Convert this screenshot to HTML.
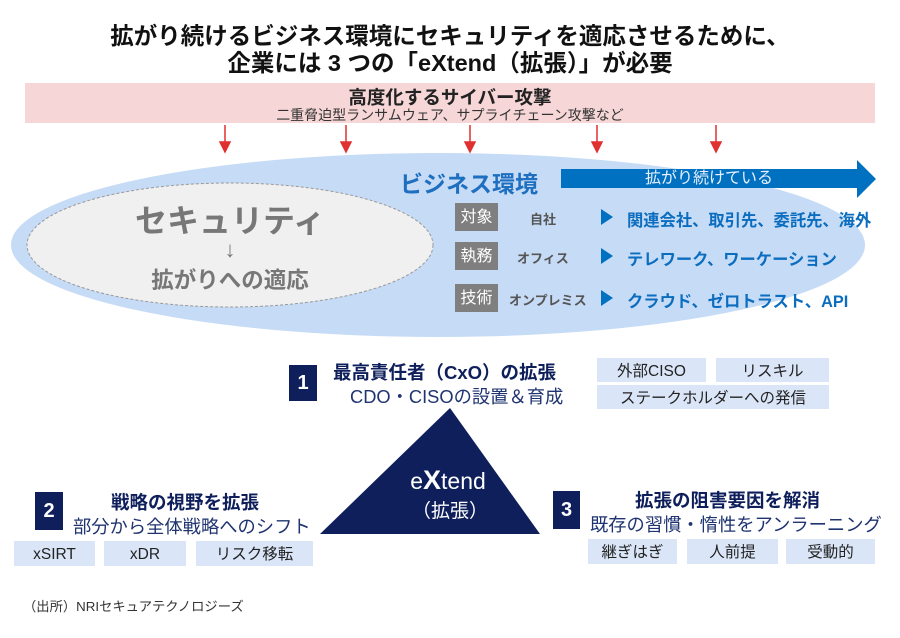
<!DOCTYPE html>
<html><head><meta charset="utf-8">
<style>
*{margin:0;padding:0;box-sizing:border-box}
body{width:900px;height:638px;background:#fff;position:relative;overflow:hidden;font-family:"Liberation Sans","Noto Sans CJK JP",sans-serif}
.a{position:absolute;white-space:nowrap}
.t{font-weight:bold;font-size:23.5px;color:#111;left:0;width:900px;text-align:center}
.gb{position:absolute;background:#7f7f7f;color:#fff;font-size:16px;width:43px;height:28px;line-height:30px;text-align:center}
.lb{position:absolute;font-size:13px;font-weight:bold;color:#555}
.tri{position:absolute;width:0;height:0;border-top:8px solid transparent;border-bottom:8px solid transparent;border-left:12px solid #0070c0}
.bl{position:absolute;font-size:16.3px;font-weight:bold;color:#0b6dbf;white-space:nowrap}
.nb{position:absolute;background:#0e1f5b;color:#fff;font-weight:bold;font-size:20px;text-align:center}
.lt{position:absolute;background:#dae6f8;font-size:15.5px;color:#222;text-align:center;height:24px;line-height:27px}
.h{position:absolute;font-weight:bold;font-size:18.5px;color:#0e1f5b;white-space:nowrap}
.s{position:absolute;font-size:18.3px;color:#1f3470;white-space:nowrap}
</style></head><body>
<div class="a t" style="top:17px">拡がり続けるビジネス環境にセキュリティを適応させるために、</div>
<div class="a t" style="top:44px">企業には 3 つの「eXtend（拡張）」が必要</div>
<div class="a" style="left:25px;top:83px;width:850px;height:40px;background:#f6d6d6"></div>
<div class="a" style="left:0;width:900px;text-align:center;top:84px;font-size:18.5px;font-weight:bold;color:#222">高度化するサイバー攻撃</div>
<div class="a" style="left:0;width:900px;text-align:center;top:105px;font-size:14px;color:#333">二重脅迫型ランサムウェア、サプライチェーン攻撃など</div>
<svg class="a" style="left:0;top:0" width="900" height="638">
<g stroke="#e03030" stroke-width="1.5" fill="#e03030">
<line x1="225" y1="125" x2="225" y2="145"/><polygon points="220,142 230,142 225,152"/>
<line x1="346" y1="125" x2="346" y2="145"/><polygon points="341,142 351,142 346,152"/>
<line x1="470" y1="125" x2="470" y2="145"/><polygon points="465,142 475,142 470,152"/>
<line x1="597" y1="125" x2="597" y2="145"/><polygon points="592,142 602,142 597,152"/>
<line x1="716" y1="125" x2="716" y2="145"/><polygon points="711,142 721,142 716,152"/>
</g>
<ellipse cx="438" cy="245" rx="427" ry="92" fill="#c6dbf6"/>
<ellipse cx="230" cy="245" rx="203" ry="62" fill="#f0f0f0" stroke="#999" stroke-dasharray="3,2"/>
<polygon points="561,169 857,169 857,160 876,179 857,198 857,188 561,188" fill="#0070c0"/>
<polygon points="450,408 540,534 320,534" fill="#0e1f5b"/>
</svg>
<div class="a" style="left:30px;width:400px;text-align:center;top:196px;font-size:32px;font-weight:bold;color:#777">セキュリティ</div>
<div class="a" style="left:30px;width:400px;text-align:center;top:237px;font-size:22px;color:#777">↓</div>
<div class="a" style="left:30px;width:400px;text-align:center;top:263px;font-size:22.5px;font-weight:bold;color:#777">拡がりへの適応</div>
<div class="a" style="left:400px;top:165px;font-size:23px;font-weight:bold;color:#1f6fc0">ビジネス環境</div>
<div class="a" style="left:561px;width:296px;text-align:center;top:169px;font-size:16px;color:#e8f0ff;line-height:20px">拡がり続けている</div>
<div class="gb" style="left:455px;top:203px">対象</div>
<div class="gb" style="left:455px;top:242px">執務</div>
<div class="gb" style="left:455px;top:284px">技術</div>
<div class="lb" style="left:530px;top:209px">自社</div>
<div class="lb" style="left:517px;top:248px">オフィス</div>
<div class="lb" style="left:509px;top:290px">オンプレミス</div>
<div class="tri" style="left:601px;top:209px"></div>
<div class="tri" style="left:601px;top:248px"></div>
<div class="tri" style="left:601px;top:290px"></div>
<div class="bl" style="left:627px;top:207px">関連会社、取引先、委託先、海外</div>
<div class="bl" style="left:627px;top:246px">テレワーク、ワーケーション</div>
<div class="bl" style="left:627px;top:288px">クラウド、ゼロトラスト、API</div>

<div class="nb" style="left:289px;top:365px;width:28px;height:36px;line-height:36px">1</div>
<div class="h" style="left:333px;top:359px">最高責任者（CxO）の拡張</div>
<div class="s" style="left:350px;top:383px">CDO・CISOの設置＆育成</div>
<div class="lt" style="left:597px;top:358px;width:109px">外部CISO</div>
<div class="lt" style="left:716px;top:358px;width:113px">リスキル</div>
<div class="lt" style="left:597px;top:385px;width:232px">ステークホルダーへの発信</div>

<div class="a" style="left:320px;width:260px;text-align:center;top:465px;font-size:23px;color:#fff;margin-left:-2px">e<b style="font-size:27px">X</b>tend</div>
<div class="a" style="left:320px;width:260px;text-align:center;top:496px;font-size:19px;color:#fff">（拡張）</div>

<div class="nb" style="left:35px;top:492px;width:28px;height:38px;line-height:38px">2</div>
<div class="h" style="left:111px;top:489px">戦略の視野を拡張</div>
<div class="s" style="left:73px;top:513px">部分から全体戦略へのシフト</div>
<div class="lt" style="left:14px;top:541px;width:81px;height:25px">xSIRT</div>
<div class="lt" style="left:104px;top:541px;width:82px;height:25px">xDR</div>
<div class="lt" style="left:196px;top:541px;width:117px;height:25px">リスク移転</div>

<div class="nb" style="left:553px;top:491px;width:27px;height:38px;line-height:38px">3</div>
<div class="h" style="left:635px;top:487px">拡張の阻害要因を解消</div>
<div class="s" style="left:590px;top:511px">既存の習慣・惰性をアンラーニング</div>
<div class="lt" style="left:588px;top:539px;width:89px;height:25px">継ぎはぎ</div>
<div class="lt" style="left:687px;top:539px;width:91px;height:25px">人前提</div>
<div class="lt" style="left:786px;top:539px;width:89px;height:25px">受動的</div>

<div class="a" style="left:23px;top:596px;font-size:13.3px;color:#333">（出所）NRIセキュアテクノロジーズ</div>
</body></html>
